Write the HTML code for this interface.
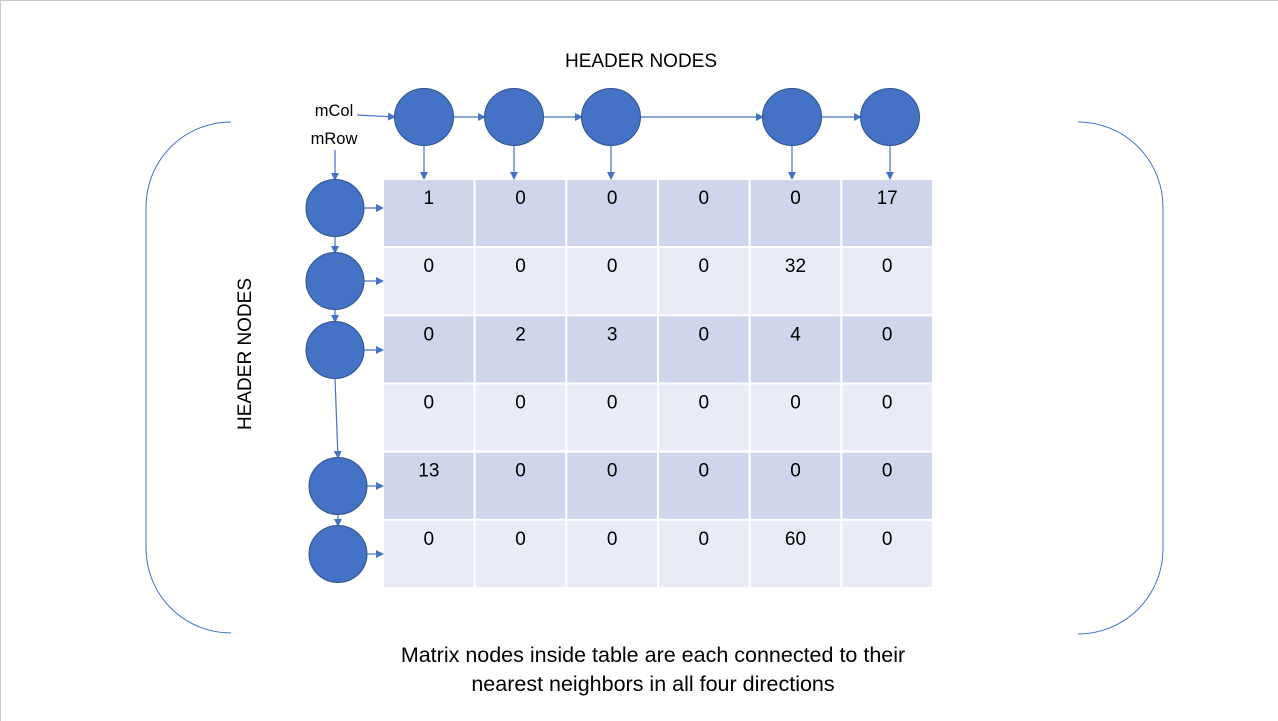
<!DOCTYPE html>
<html><head><meta charset="utf-8"><style>
html,body{margin:0;padding:0;background:#fff}
svg{display:block;font-family:"Liberation Sans",Calibri,sans-serif}
</style></head><body>
<svg id="s" width="1278" height="721" viewBox="0 0 1278 721">
<defs><marker id="ah" markerWidth="8" markerHeight="8" refX="7" refY="4" orient="auto" markerUnits="userSpaceOnUse"><path d="M0,0 L8,4 L0,8 Z" fill="#4472C4"/></marker></defs>
<rect x="0.5" y="0.5" width="1290" height="730" fill="none" stroke="#c8c8c8"/>
<path d="M231,122 A85,85 0 0 0 146,207 L146,548 A85,85 0 0 0 231,633" fill="none" stroke="#4472C4" stroke-width="1"/>
<path d="M1078,122 A85,85 0 0 1 1163,207 L1163,549 A85,85 0 0 1 1078,634" fill="none" stroke="#4472C4" stroke-width="1"/>
<text x="641" y="67" font-size="19" text-anchor="middle">HEADER NODES</text>
<text transform="translate(251,354) rotate(-90)" font-size="19" text-anchor="middle">HEADER NODES</text>
<text x="334" y="116" font-size="16.5" text-anchor="middle">mCol</text>
<text x="334" y="144" font-size="16.5" text-anchor="middle">mRow</text>
<text x="653" y="662" font-size="21.5" text-anchor="middle">Matrix nodes inside table are each connected to their</text>
<text x="653" y="691" font-size="21.5" text-anchor="middle">nearest neighbors in all four directions</text>
<g id="g"></g>
</svg>
<script>
const rows=[[1,0,0,0,0,17],[0,0,0,0,32,0],[0,2,3,0,4,0],[0,0,0,0,0,0],[13,0,0,0,0,0],[0,0,0,0,60,0]];
const colNodeX=[424,514,611,792,890];
const rowNodeY=[208,281,350,486,554];
const rowNodeX=[335,335,335,338,338];
const NS="http://www.w3.org/2000/svg";
const g=document.getElementById('g');
function mk(t,a){const e=document.createElementNS(NS,t);for(const k in a)e.setAttribute(k,a[k]);g.appendChild(e);return e;}
const x0=383,x1=933,y0=179,y1=588;
const cw=(x1-x0)/6,rh=(y1-y0)/6;
rows.forEach((r,i)=>{r.forEach((v,j)=>{
 const c=mk('rect',{x:x0+j*cw,y:y0+i*rh,width:cw,height:rh,fill:i%2?'#E9EBF5':'#CFD5EA',stroke:'#fff','stroke-width':2});
 
 
 const t=mk('text',{x:x0+j*cw+cw/2,y:y0+i*rh+25,'font-size':19,'text-anchor':'middle',fill:'#000'});
 t.textContent=v;
 
 
});});
function arrow(a,b,c,d){const l=mk('line',{x1:a,y1:b,x2:c,y2:d,stroke:'#4472C4','stroke-width':1.2,'marker-end':'url(#ah)'});
 
 }
const cy=117;
arrow(357,cy-2,395,cy);
colNodeX.forEach((x,i)=>{
 if(i<colNodeX.length-1)arrow(x+29,cy,colNodeX[i+1]-29,cy);
 arrow(x,cy+29,x,y0);
});
arrow(335,150,335,180);
rowNodeY.forEach((y,i)=>{
 arrow(rowNodeX[i]+29,y,x0,y);
 if(i<rowNodeY.length-1)arrow(rowNodeX[i],y+28,rowNodeX[i+1],rowNodeY[i+1]-28);
});
colNodeX.forEach(x=>{const c=mk('ellipse',{cx:x,cy:cy,rx:29.5,ry:28.5,fill:'#4472C4',stroke:'#2F528F','stroke-width':1});
 
 });
rowNodeY.forEach((y,i)=>{const c=mk('ellipse',{cx:rowNodeX[i],cy:y,rx:29,ry:28.5,fill:'#4472C4',stroke:'#2F528F','stroke-width':1});
 
 });
</script>
</body></html>
